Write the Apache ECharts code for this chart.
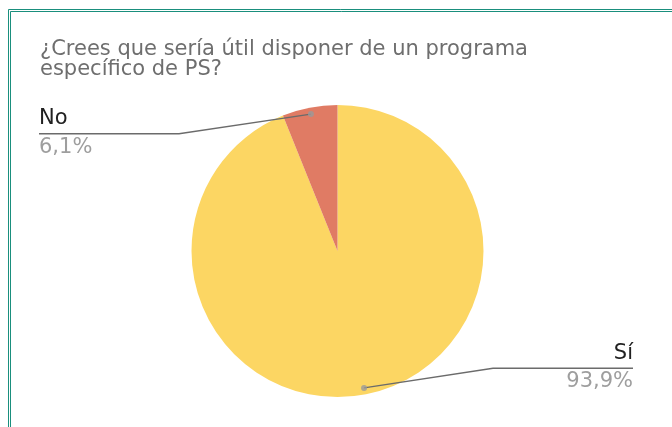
<!DOCTYPE html>
<html>
<head>
<meta charset="utf-8">
<script src="https://cdn.jsdelivr.net/npm/echarts@6/dist/echarts.min.js"></script>
<style>
html,body{margin:0;padding:0;background:#fff;}
#chart{width:672px;height:427px;}
</style>
</head>
<body>
<div id="chart"></div>
<script>
const titleText = '¿Crees que sería útil disponer de un programa\nespecífico de PS?';
const categories = ['Sí', 'No'];
const values = [93.9, 6.1];
const valueLabels = ['93,9%', '6,1%'];
const colors = ['#fcd663', '#e07b64'];

const W = 672, CX = 337.5, CY = 251, R = 146;
const FONT = 'DejaVu Sans';
const chart = echarts.init(document.getElementById('chart'), null, {renderer: 'canvas'});

const pieData = categories.map((c, i) => ({name: c, value: values[i], itemStyle: {color: colors[i]}}));
const plainData = categories.map((c, i) => ({name: c, value: values[i]}));
// anchor dots at the middle of each slice, near the rim
const total = values.reduce((a, b) => a + b, 0);
let acc = 0;
const dotData = values.map(v => { const mid = acc + v / 2; acc += v; return [0.955, mid]; });

chart.setOption({
  backgroundColor: '#ffffff',
  animation: false,
  title: {
    text: titleText,
    left: 40, top: 40, padding: 0,
    textStyle: {fontFamily: FONT, fontSize: 21, fontWeight: 'normal', color: '#6e6e6e', lineHeight: 19.5}
  },
  graphic: [
    {type: 'rect', shape: {x: 8.5, y: 9.5, width: 700, height: 500}, style: {fill: 'none', stroke: '#1a8f7d', lineWidth: 1}, silent: true},
    {type: 'rect', shape: {x: 10.5, y: 11.5, width: 700, height: 500}, style: {fill: 'none', stroke: '#1a8f7d', lineWidth: 1}, silent: true}
  ],
  polar: {center: [CX, CY], radius: [0, R]},
  angleAxis: {type: 'value', min: 0, max: total, startAngle: 90, clockwise: true, show: false},
  radiusAxis: {type: 'value', min: 0, max: 1, show: false},
  series: [
    {
      type: 'pie',
      z: 2,
      center: [CX, CY],
      radius: [0, R],
      startAngle: 90,
      clockwise: true,
      silent: true,
      data: pieData,
      itemStyle: {borderWidth: 0},
      label: {show: false},
      labelLine: {show: false}
    },
    {
      type: 'pie',
      z: 3,
      center: [CX, CY],
      radius: [0, R * 0.955],
      startAngle: 90,
      clockwise: true,
      silent: true,
      data: plainData,
      itemStyle: {color: 'rgba(0,0,0,0)', borderWidth: 0},
      label: {
        show: true,
        position: 'outer',
        alignTo: 'edge',
        edgeDistance: 39,
        formatter: p => '{name|' + p.name + '}\n{pct|' + valueLabels[p.dataIndex] + '}',
        rich: {
          name: {fontFamily: FONT, fontSize: 21, color: '#212121', lineHeight: 27},
          pct: {fontFamily: FONT, fontSize: 21, color: '#9e9e9e', lineHeight: 30}
        }
      },
      labelLine: {
        show: true,
        length: -20,
        length2: 0,
        lineStyle: {color: '#6b6b6b', width: 1.5}
      },
      labelLayout: function (p) {
        const pts = p.labelLinePoints;
        if (!pts) return {};
        const isLeft = p.labelRect.x < W / 2;
        const y = pts[2][1];
        const outerX = isLeft ? p.labelRect.x : p.labelRect.x + p.labelRect.width;
        const elbowX = isLeft ? outerX + 140 : outerX - 140;
        return {labelLinePoints: [pts[0], [elbowX, y], [outerX, y]]};
      }
    },
    {
      type: 'scatter',
      coordinateSystem: 'polar',
      z: 4,
      silent: true,
      symbol: 'circle',
      symbolSize: 6,
      itemStyle: {color: '#9a9a9a'},
      data: dotData
    }
  ]
});
</script>
</body>
</html>
